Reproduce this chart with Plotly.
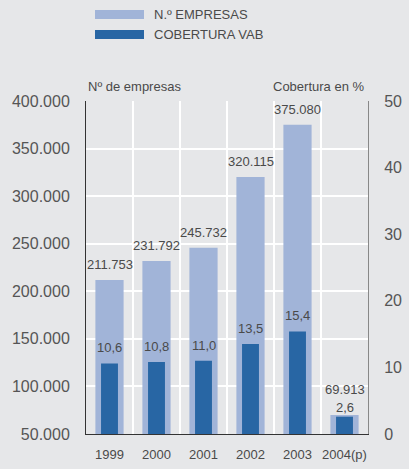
import plotly.graph_objects as go

years = ["1999", "2000", "2001", "2002", "2003", "2004(p)"]
empresas = [211753, 231792, 245732, 320115, 375080, 69913]
cobertura = [10.6, 10.8, 11.0, 13.5, 15.4, 2.6]
left_ticks = [50000, 100000, 150000, 200000, 250000, 300000, 350000, 400000]
right_ticks = [0, 10, 20, 30, 40, 50]

LIGHT = "#a1b4d8"
DARK = "#2866a4"
BG = "#e6e7e9"
TXT = "#4a4a4a"
FONT = "Liberation Sans, Arial, sans-serif"

fig = go.Figure()
fig.add_trace(go.Bar(x=years, y=empresas, width=0.6, marker_color=LIGHT,
                     marker_line_width=0, name="N.º EMPRESAS", yaxis="y"))
fig.add_trace(go.Bar(x=years, y=cobertura, width=0.36, marker_color=DARK,
                     marker_line_width=0, name="COBERTURA VAB", yaxis="y2"))

annotations = []
n = len(years)
for i, v in enumerate(empresas):
    shift = 6 if i < n - 1 else 16
    annotations.append(dict(x=i, y=v, xref="x", yref="y", text=f"{v:,}".replace(",", "."),
                            showarrow=False, yanchor="bottom", yshift=shift,
                            font=dict(size=13, color=TXT, family=FONT)))
for i, v in enumerate(cobertura):
    shift = 6 if i < n - 1 else 0
    annotations.append(dict(x=i, y=v, xref="x", yref="y2", text=f"{v:.1f}".replace(".", ","),
                            showarrow=False, yanchor="bottom", yshift=shift,
                            font=dict(size=13, color=TXT, family=FONT)))

# axis titles
annotations.append(dict(x=0, y=1.0, xref="paper", yref="paper", xanchor="left", yanchor="bottom",
                        yshift=5, text="Nº de empresas", showarrow=False,
                        font=dict(size=13, color=TXT, family=FONT)))
annotations.append(dict(x=1, y=1.0, xref="paper", yref="paper", xanchor="right", yanchor="bottom",
                        yshift=5, xshift=-2, text="Cobertura en %", showarrow=False,
                        font=dict(size=13, color=TXT, family=FONT)))
# legend text
annotations.append(dict(x=(152 - 86) / 282, y=(434 - 14.5) / 333, xref="paper", yref="paper",
                        xanchor="left", yanchor="middle", text="N.º EMPRESAS", showarrow=False,
                        font=dict(size=13, color=TXT, family=FONT)))
annotations.append(dict(x=(152 - 86) / 282, y=(434 - 34.5) / 333, xref="paper", yref="paper",
                        xanchor="left", yanchor="middle", text="COBERTURA VAB", showarrow=False,
                        font=dict(size=13, color=TXT, family=FONT)))

shapes = [
    dict(type="rect", xref="paper", yref="paper", x0=(95 - 86) / 282, x1=(144 - 86) / 282,
         y0=(434 - 19) / 333, y1=(434 - 10) / 333, fillcolor=LIGHT, line_width=0),
    dict(type="rect", xref="paper", yref="paper", x0=(95 - 86) / 282, x1=(144 - 86) / 282,
         y0=(434 - 39) / 333, y1=(434 - 30) / 333, fillcolor=DARK, line_width=0),
]
# vertical white separators between categories
for i in range(1, n):
    shapes.append(dict(type="line", xref="x", yref="paper", x0=i - 0.5, x1=i - 0.5, y0=0, y1=1,
                       line=dict(color="white", width=2), layer="below"))

fig.update_layout(
    width=409, height=469,
    margin=dict(l=86, r=41, t=101, b=35, autoexpand=False),
    paper_bgcolor=BG, plot_bgcolor=BG,
    barmode="overlay", showlegend=False,
    separators=",.",
    font=dict(family=FONT, color=TXT),
    annotations=annotations, shapes=shapes,
    xaxis=dict(type="category", range=[-0.5, 5.5], showgrid=False, automargin=False,
               showline=True, linecolor="#333333", linewidth=1, ticks="",
               tickfont=dict(size=13, color=TXT), ticklabelstandoff=8),
    yaxis=dict(range=[50000, 400000], tickvals=left_ticks, automargin=False,
               ticktext=[f"{t:,}".replace(",", ".") for t in left_ticks],
               showgrid=True, gridcolor="white", gridwidth=2,
               showline=True, linecolor="#333333", linewidth=1, ticks="",
               tickfont=dict(size=16, color="#555555"), ticklabelstandoff=12, zeroline=False),
    yaxis2=dict(range=[0, 50], tickvals=right_ticks, overlaying="y", side="right",
                automargin=False, showgrid=False, showline=True, linecolor="#888888",
                linewidth=1, ticks="", tickfont=dict(size=16, color="#555555"),
                ticklabelstandoff=12, zeroline=False),
)

fig.write_html("out.html", config={"displayModeBar": False},
               post_script="document.body.style.margin='0';")
